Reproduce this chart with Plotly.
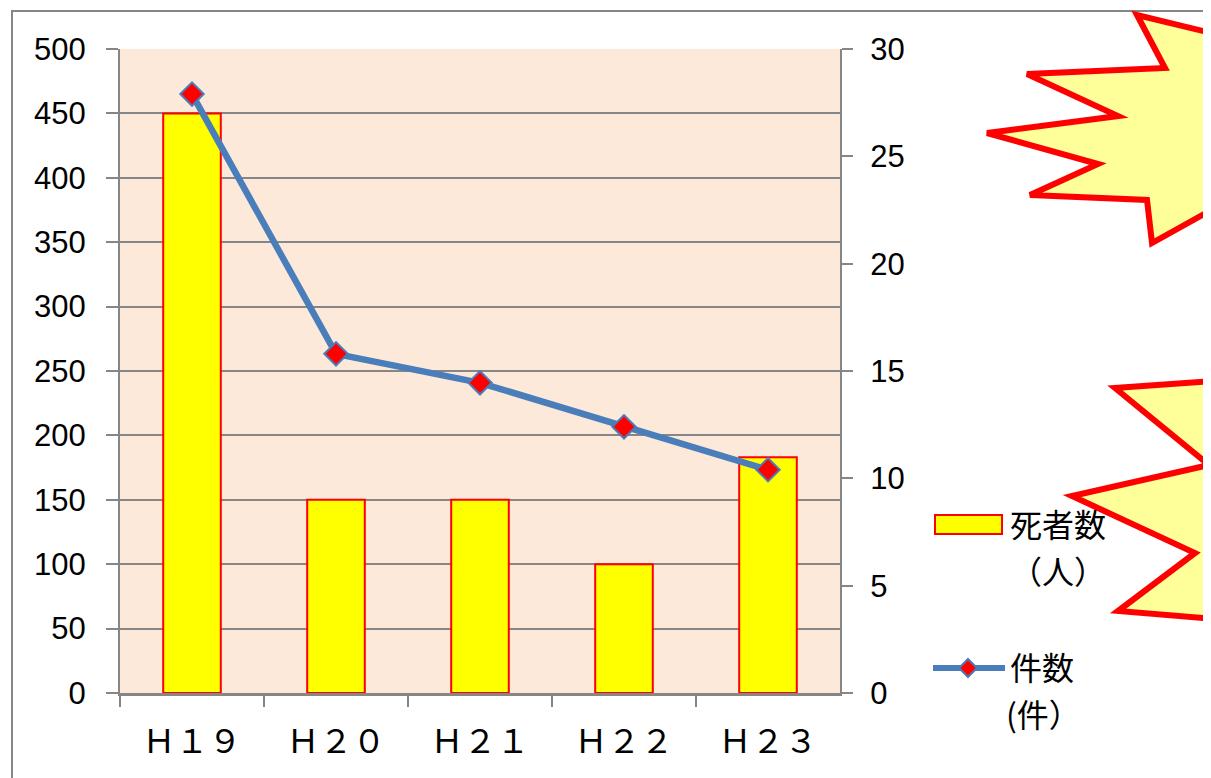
import plotly.graph_objects as go

# ---- data ----
categories = ["Ｈ１９", "Ｈ２０", "Ｈ２１", "Ｈ２２", "Ｈ２３"]
deaths = [450, 150, 150, 100, 183]          # 死者数（人）
cases = [27.9, 15.8, 14.45, 12.4, 10.4]     # 件数(件）
left_ticks = list(range(0, 501, 50))
right_ticks = list(range(0, 31, 5))

OFF = 8                 # page body margin
FW, FH = 1203, 770      # figure size
GRAY = "#868686"
BLUE = "#4A7EBB"
NUM_FONT = "Liberation Sans, Arial, sans-serif"
JP_FONT = "Noto Sans CJK JP, sans-serif"


def px(x):
    return (x - OFF) / FW


def py(y):
    return 1 - (y - OFF) / FH


def path(points):
    return "M " + " L ".join(f"{px(x):.5f},{py(y):.5f}" for x, y in points) + " Z"


fig = go.Figure()
fig.add_trace(go.Bar(
    x=categories, y=deaths, name="死者数（人）",
    marker=dict(color="#FFFF00", line=dict(color="#FF0000", width=2)),
    width=0.4, showlegend=False, yaxis="y",
))
fig.add_trace(go.Scatter(
    x=categories, y=cases, name="件数(件）", mode="lines+markers",
    line=dict(color=BLUE, width=6.5),
    marker=dict(symbol="diamond", size=18, color="#FF0000",
                line=dict(color=BLUE, width=2)),
    showlegend=False, yaxis="y2",
))

shapes = []
# outer frame
shapes.append(dict(type="rect", xref="paper", yref="paper",
                   x0=px(12), x1=px(1260), y0=py(820), y1=py(11),
                   line=dict(color=GRAY, width=2), fillcolor="rgba(0,0,0,0)", layer="below"))
# starbursts
star1 = [(1137, 15), (1165, 68), (1027, 74), (1118, 116), (987, 133), (1098, 164),
         (1030, 195), (1147, 200), (1152, 243), (1240, 194), (1240, 40)]
star2 = [(1240, 379), (1115, 388), (1209, 465), (1072, 496), (1195, 553), (1118, 611),
         (1240, 621)]
for s in (star1, star2):
    shapes.append(dict(type="path", xref="paper", yref="paper", path=path(s),
                       fillcolor="#FFFF99", line=dict(color="#FF0000", width=6)))
# legend: bar swatch
shapes.append(dict(type="rect", xref="paper", yref="paper",
                   x0=px(935), x1=px(1002), y0=py(534), y1=py(515),
                   fillcolor="#FFFF00", line=dict(color="#FF0000", width=2)))
# legend: line + diamond
shapes.append(dict(type="line", xref="paper", yref="paper",
                   x0=px(933), x1=px(1005), y0=py(668), y1=py(668),
                   line=dict(color=BLUE, width=6)))
shapes.append(dict(type="path", xref="paper", yref="paper",
                   path=path([(968, 659), (977, 668), (968, 677), (959, 668)]),
                   fillcolor="#FF0000", line=dict(color=BLUE, width=2)))

annotations = []
for text, x, y in [("死者数", 1009, 523), ("（人）", 1009, 570),
                   ("件数", 1009, 666), ("(件）", 1005, 713)]:
    annotations.append(dict(text=text, xref="paper", yref="paper", x=px(x), y=py(y),
                            xanchor="left", yanchor="middle", showarrow=False,
                            borderpad=0,
                            font=dict(family=JP_FONT, size=32, color="#000000")))

fig.update_layout(
    width=FW, height=FH,
    margin=dict(l=0, r=0, t=0, b=0),
    paper_bgcolor="white",
    plot_bgcolor="#FDE9D9",
    bargap=0.6,
    shapes=shapes,
    annotations=annotations,
    xaxis=dict(
        domain=[px(120), px(840)], type="category", automargin=False,
        showline=True, linecolor=GRAY, linewidth=3,
        ticks="outside", tickson="boundaries", ticklen=11, tickwidth=2, tickcolor=GRAY,
        showgrid=False, ticklabelstandoff=17,
        tickfont=dict(family=JP_FONT, size=33, color="#000000"),
    ),
    yaxis=dict(
        domain=[py(693), py(49)], range=[0, 500], tickvals=left_ticks, automargin=False,
        showline=True, linecolor=GRAY, linewidth=2, zeroline=False,
        showgrid=True, gridcolor=GRAY, gridwidth=2,
        ticks="outside", ticklen=12, tickwidth=2, tickcolor=GRAY,
        ticklabelstandoff=14,
        tickfont=dict(family=NUM_FONT, size=31, color="#000000"),
    ),
    yaxis2=dict(
        overlaying="y", side="right", range=[0, 30], tickvals=right_ticks, automargin=False,
        showline=True, linecolor=GRAY, linewidth=2, zeroline=False, showgrid=False,
        ticks="outside", ticklen=11, tickwidth=2, tickcolor=GRAY,
        ticklabelstandoff=11,
        tickfont=dict(family=NUM_FONT, size=31, color="#000000"),
    ),
)

fig.write_html("out.html")
